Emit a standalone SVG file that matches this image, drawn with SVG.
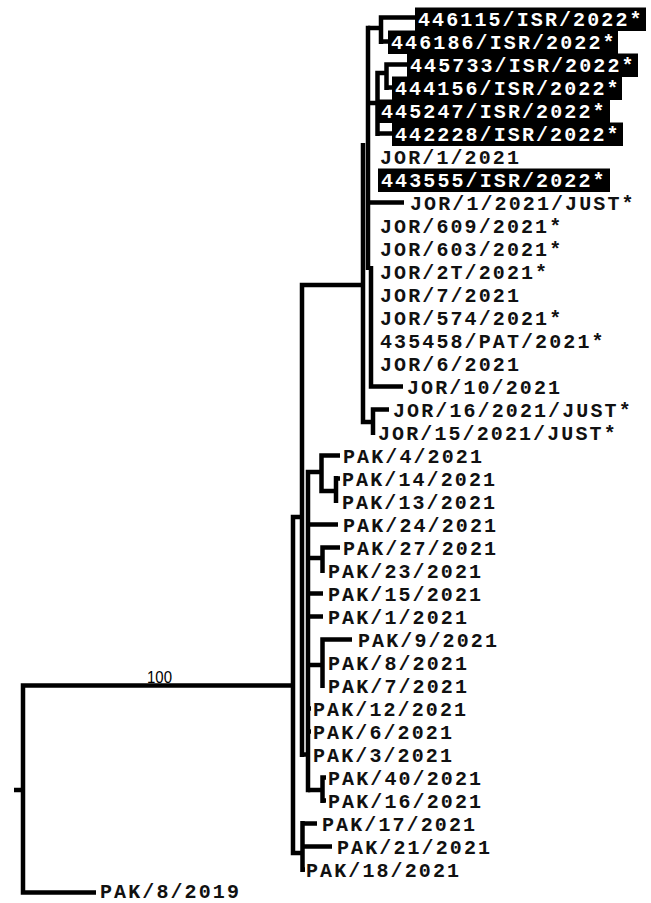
<svg xmlns="http://www.w3.org/2000/svg" width="651" height="903" viewBox="0 0 651 903">
<style>
.e{fill:none;stroke:#000;stroke-width:4.5;stroke-linecap:butt}
.t{font-family:"Liberation Mono","DejaVu Sans Mono",monospace;font-weight:bold;font-size:20px;letter-spacing:2.1px;fill:#111}
.w{fill:#fff}
.b{fill:#000}
.s{font-family:"Liberation Sans",Arial,sans-serif;font-size:17px;fill:#000}
</style>
<rect width="651" height="903" fill="#fff"/>
<g id="edges" class="e">
<path d="M14,790H23M23,683.2V894.8M23,685.5H293M23,892.5H96"/>
<path d="M293,514.7V855.3M293,517H302M293,853H302"/>
<path d="M302.5,821V872M302,823.5H317M302,846.5H332M302,869.5H305"/>
<path d="M302,282.7V757M302,285H363M302,754.5H310"/>
<path d="M308,469.7V792.3M308,472H321"/>
<path d="M321.5,453.2V493.3M321,455.5H340M321,491H336M336,476V503M336,478.5H340"/>
<path d="M308,524.5H338"/>
<path d="M308,558H322.5M322.5,545.2V573M322,547.5H340"/>
<path d="M308,593.5H323M308,616.5H323"/>
<path d="M308,665H322.5M322.5,637.2V688M322,639.5H352"/>
<path d="M308,708.5H311M308,731.5H311"/>
<path d="M308,790H322.5M322.5,775.2V803M322,777.5H326M322,800.5H326"/>
<path d="M363,143V424.3M363,422H373M373,407.2V435M373,409.5H389"/>
<path d="M368,25.7V270M371,266V388.8M371,386.5H403M368,202.5H404"/>
<path d="M368,28H381M381,15.2V44M381,17.5H416M381,41.5H389"/>
<path d="M368,103H378M377.5,70.7V136M377,133.5H393M377,73H386.5M386.5,62.2V90M386,64.5H408M386,87.5H393"/>
</g>
<text class="s" x="147" y="683" textLength="25" lengthAdjust="spacingAndGlyphs">100</text>
<g id="n0"><rect class="b" x="415" y="7.5" width="231" height="23.5"/><text class="t w" x="418" y="25.5">446115/ISR/2022*</text></g>
<g id="n1"><rect class="b" x="388" y="30.5" width="230" height="23.5"/><text class="t w" x="391" y="48.5">446186/ISR/2022*</text></g>
<g id="n2"><rect class="b" x="407" y="53.5" width="231" height="23.5"/><text class="t w" x="410" y="71.5">445733/ISR/2022*</text></g>
<g id="n3"><rect class="b" x="392" y="76.5" width="230" height="23.5"/><text class="t w" x="395" y="94.5">444156/ISR/2022*</text></g>
<g id="n4"><rect class="b" x="378" y="99.5" width="232" height="23.5"/><text class="t w" x="381" y="117.5">445247/ISR/2022*</text></g>
<g id="n5"><rect class="b" x="392" y="122.5" width="231" height="23.5"/><text class="t w" x="395" y="140.5">442228/ISR/2022*</text></g>
<g id="n6"><text class="t" x="380" y="163.5">JOR/1/2021</text></g>
<g id="n7"><rect class="b" x="378" y="168.5" width="232" height="23.5"/><text class="t w" x="381" y="186.5">443555/ISR/2022*</text></g>
<g id="n8"><text class="t" x="410" y="209.5">JOR/1/2021/JUST*</text></g>
<g id="n9"><text class="t" x="380" y="232.5">JOR/609/2021*</text></g>
<g id="n10"><text class="t" x="380" y="255.5">JOR/603/2021*</text></g>
<g id="n11"><text class="t" x="380" y="278.5">JOR/2T/2021*</text></g>
<g id="n12"><text class="t" x="380" y="301.5">JOR/7/2021</text></g>
<g id="n13"><text class="t" x="380" y="324.5">JOR/574/2021*</text></g>
<g id="n14"><text class="t" x="380" y="347.5">435458/PAT/2021*</text></g>
<g id="n15"><text class="t" x="380" y="370.5">JOR/6/2021</text></g>
<g id="n16"><text class="t" x="407" y="393.5">JOR/10/2021</text></g>
<g id="n17"><text class="t" x="393" y="416.5">JOR/16/2021/JUST*</text></g>
<g id="n18"><text class="t" x="378" y="439.5">JOR/15/2021/JUST*</text></g>
<g id="n19"><text class="t" x="343" y="462.5">PAK/4/2021</text></g>
<g id="n20"><text class="t" x="342" y="485.5">PAK/14/2021</text></g>
<g id="n21"><text class="t" x="342" y="508.5">PAK/13/2021</text></g>
<g id="n22"><text class="t" x="343" y="531.5">PAK/24/2021</text></g>
<g id="n23"><text class="t" x="343" y="554.5">PAK/27/2021</text></g>
<g id="n24"><text class="t" x="328" y="577.5">PAK/23/2021</text></g>
<g id="n25"><text class="t" x="328" y="600.5">PAK/15/2021</text></g>
<g id="n26"><text class="t" x="328" y="623.5">PAK/1/2021</text></g>
<g id="n27"><text class="t" x="358" y="646.5">PAK/9/2021</text></g>
<g id="n28"><text class="t" x="328" y="669.5">PAK/8/2021</text></g>
<g id="n29"><text class="t" x="328" y="692.5">PAK/7/2021</text></g>
<g id="n30"><text class="t" x="313" y="715.5">PAK/12/2021</text></g>
<g id="n31"><text class="t" x="313" y="738.5">PAK/6/2021</text></g>
<g id="n32"><text class="t" x="313" y="761.5">PAK/3/2021</text></g>
<g id="n33"><text class="t" x="328" y="784.5">PAK/40/2021</text></g>
<g id="n34"><text class="t" x="328" y="807.5">PAK/16/2021</text></g>
<g id="n35"><text class="t" x="322" y="830.5">PAK/17/2021</text></g>
<g id="n36"><text class="t" x="337" y="853.5">PAK/21/2021</text></g>
<g id="n37"><text class="t" x="306" y="876.5">PAK/18/2021</text></g>
<g id="n38"><text class="t" x="100" y="898">PAK/8/2019</text></g>
</svg>
